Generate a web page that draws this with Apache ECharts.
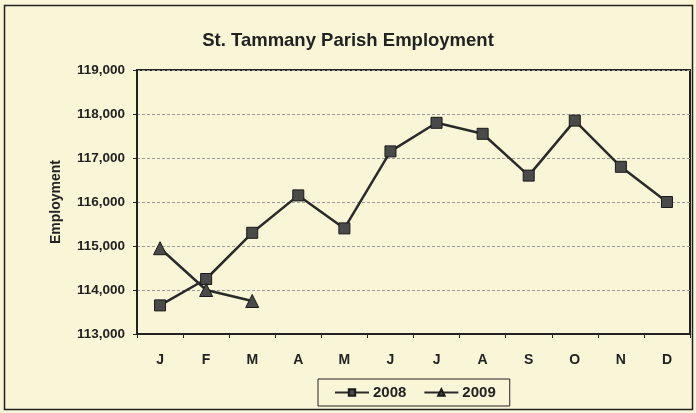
<!DOCTYPE html>
<html><head><meta charset="utf-8">
<script src="https://cdn.jsdelivr.net/npm/echarts@6/dist/echarts.min.js"></script>
<style>html,body{margin:0;padding:0;background:#f9f5d7;}#c{width:696px;height:413px;}</style>
</head><body><div id="c"></div>
<script>
const months = ['J','F','M','A','M','J','J','A','S','O','N','D'];
const s2008 = [113650,114250,115300,116150,115400,117150,117800,117550,116600,117850,116800,116000];
const s2009 = [114950,114000,113750];
const yMin = 113000, yMax = 119000, yStep = 1000;
const chart = echarts.init(document.getElementById('c'));
const font = '"Liberation Sans", Arial, sans-serif';
chart.setOption({
  backgroundColor: '#f9f5d7',
  animation: false,
  title: {text: 'St. Tammany Parish Employment', left: 'center', top: 26,
    textStyle: {fontFamily: font, fontWeight: 'bold', fontSize: 18.5, color: '#222'}},
  graphic: [{type: 'rect', shape: {x: 4.5, y: 5.5, width: 688, height: 404},
    style: {fill: 'none', stroke: '#222', lineWidth: 1.5}}],
  grid: {left: 137, right: 6, top: 70, bottom: 79, show: true, borderColor: '#222', borderWidth: 2},
  legend: {left: 318, top: 379, padding: [6, 14, 6, 16], itemGap: 17, itemWidth: 34, itemHeight: 8,
    borderColor: '#222', borderWidth: 1, backgroundColor: '#f9f5d7',
    textStyle: {fontFamily: font, fontWeight: 'bold', fontSize: 15, color: '#222', padding: [0, 0, 0, -1]},
    data: ['2008', '2009']},
  xAxis: {type: 'category', data: months, boundaryGap: true,
    axisLine: {lineStyle: {color: '#222', width: 2}},
    axisTick: {show: true, inside: false, length: 4, lineStyle: {color: '#222'}},
    axisLabel: {fontFamily: font, fontWeight: 'bold', fontSize: 14, color: '#222', margin: 19}},
  yAxis: {type: 'value', min: yMin, max: yMax, interval: yStep,
    name: 'Employment', nameLocation: 'middle', nameGap: 74,
    nameTextStyle: {fontFamily: font, fontWeight: 'bold', fontSize: 14, color: '#222'},
    axisLine: {show: true, lineStyle: {color: '#222', width: 2}},
    axisTick: {show: true, length: 4, lineStyle: {color: '#222'}},
    axisLabel: {fontFamily: font, fontWeight: 'bold', fontSize: 13.5, color: '#222', margin: 12,
      formatter: v => v.toLocaleString('en-US')},
    splitLine: {lineStyle: {color: '#999', type: [3, 2], width: 1}}},
  series: [
    {name: '2008', type: 'line', data: s2008, symbol: 'rect', symbolSize: 11,
      lineStyle: {color: '#2a2a2a', width: 2.5},
      itemStyle: {color: '#4a4a4a', borderColor: '#1a1a1a', borderWidth: 1}},
    {name: '2009', type: 'line', data: s2009, symbol: 'triangle', symbolSize: 13,
      lineStyle: {color: '#2a2a2a', width: 2.5},
      itemStyle: {color: '#4a4a4a', borderColor: '#1a1a1a', borderWidth: 1}}
  ]
});
</script></body></html>
